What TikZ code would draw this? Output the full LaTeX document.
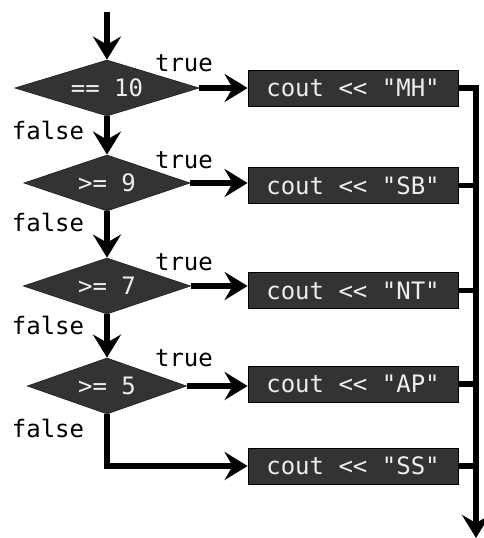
\documentclass[tikz,border=0pt]{standalone}
\usepackage{fontspec}
\setmonofont{DejaVu Sans Mono}
\usetikzlibrary{arrows.meta,shapes.geometric}
\definecolor{boxfill}{RGB}{51,51,51}
\definecolor{boxtext}{RGB}{238,238,238}
\newcommand{\flowfont}{\ttfamily\fontsize{12}{14}\selectfont}
\tikzset{
  cond/.style   ={diamond, aspect=3.3, fill=boxfill, draw=black!85, inner sep=0pt,
                  minimum height=28pt, text=boxtext, font=\flowfont},
  outbox/.style ={rectangle, fill=boxfill, draw=black, thin, inner sep=0pt,
                  minimum width=105pt, minimum height=18pt, text=boxtext, font=\flowfont},
  flow/.style   ={-{Stealth[length=11.5pt,width=14pt,inset=4pt]}, line width=2.6pt},
  rail/.style   ={line width=2.6pt},
  lbl/.style    ={font=\flowfont, inner sep=0pt},
}
\begin{document}
\begin{tikzpicture}[x=0.5pt,y=-0.5pt]
    \useasboundingbox (0,0) rectangle (484,538);

    % tests
    \node[cond, minimum width=92pt]   (d1) at (107,88)  {== 10};
    \node[cond, minimum width=83pt]   (d2) at (107,183) {>= 9};
    \node[cond, minimum width=83.5pt] (d3) at (107,286) {>= 7};
    \node[cond, minimum width=79.5pt] (d4) at (107,386) {>= 5};

    % outputs
    \foreach \y/\txt [count=\i] in {88/MH,185.5/SB,290.5/NT,384/AP,466/SS}
      \node[outbox] (b\i) at (353,\y) {cout << "\txt"};

    % branch labels
    \foreach \y [count=\i] in {63,160,262,358}
      \node[lbl] (t\i) at (184,\y) {true};
    \foreach \y [count=\i] in {130,222,325,428}
      \node[lbl] (f\i) at (48,\y) {false};

    \coordinate (entry) at (107,12);
    \coordinate (rail) at (476,88);
    \coordinate (exit) at (476,538);

    % false chain
    \draw[flow] (entry) -- (d1.north);
    \draw[flow] (d1.south) -- (d2.north);
    \draw[flow] (d2.south) -- (d3.north);
    \draw[flow] (d3.south) -- (d4.north);
    \draw[flow] (d4.south) |- (b5.west);

    % true branches
    \foreach \i in {1,...,4}
      \draw[flow] (d\i.east) -- (d\i.east -| b\i.west);

    % merge
    \draw[flow] (b1.east) -- (rail) -- (exit);
    \foreach \i in {2,...,5}
      \draw[rail] (b\i.east) -- (b\i.east -| rail);
\end{tikzpicture}
\end{document}
